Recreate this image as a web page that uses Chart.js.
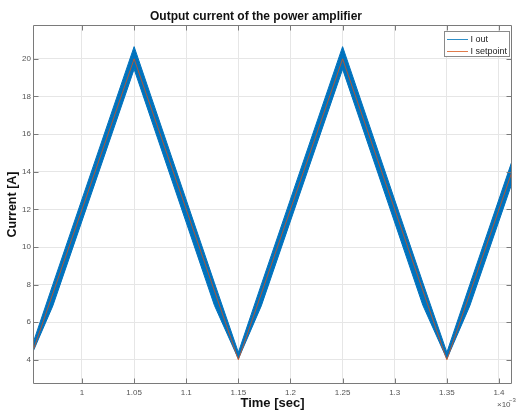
<!DOCTYPE html>
<html>
<head>
<meta charset="utf-8">
<script src="https://cdn.jsdelivr.net/npm/chart.js@4/dist/chart.umd.min.js"></script>
<style>
html,body{margin:0;padding:0;background:#fff;}
#wrap{width:516px;height:410px;position:relative;}
</style>
</head>
<body>
<div id="wrap"><canvas id="c" width="516" height="410"></canvas></div>
<script>
// Time axis in units of 1e-3 s
const envTime = [0.95, 0.972, 1.05, 1.127, 1.15, 1.172, 1.25, 1.327, 1.35, 1.372, 1.45];
const ioutUpper = [4.4, 8.0, 20.65, 8.1, 4.4, 8.0, 20.65, 8.1, 4.4, 8.0, 20.65];
const ioutLower = [4.05, 6.87, 19.45, 6.9, 4.05, 6.87, 19.45, 6.9, 4.05, 6.87, 19.45];
const setTime = [0.95, 1.05, 1.15, 1.25, 1.35, 1.45];
const setValues = [4, 20, 4, 20, 4, 20];
const xTicks = [1, 1.05, 1.1, 1.15, 1.2, 1.25, 1.3, 1.35, 1.4];
const xTickLabels = ['1', '1.05', '1.1', '1.15', '1.2', '1.25', '1.3', '1.35', '1.4'];
const yTicks = [4, 6, 8, 10, 12, 14, 16, 18, 20];
const yTickLabels = ['4', '6', '8', '10', '12', '14', '16', '18', '20'];
const seriesNames = ['I out', 'I setpoint'];

const BLUE = '#0072BD';
const ORANGE = '#D95319';
const FONT = "'Liberation Sans', Arial, Helvetica, sans-serif";

const pts = (xs, ys) => xs.map((x, i) => ({x: x, y: ys[i]}));

const frame = {
  id: 'frame',
  afterDraw(chart) {
    const ctx = chart.ctx;
    const a = chart.chartArea;
    const xs = chart.scales.x, ys = chart.scales.y;
    ctx.save();
    ctx.strokeStyle = '#7a7a7a';
    ctx.lineWidth = 1;
    const L = Math.round(a.left) + 0.5, R = Math.round(a.right) - 0.5;
    const T = Math.round(a.top) + 0.5, B = Math.round(a.bottom) - 0.5;
    ctx.beginPath();
    ctx.rect(L, T, R - L, B - T);
    ctx.stroke();
    // inward ticks
    ctx.beginPath();
    xTicks.forEach(v => {
      const px = Math.round(xs.getPixelForValue(v)) + 0.5;
      ctx.moveTo(px, B); ctx.lineTo(px, B - 5);
      ctx.moveTo(px, T); ctx.lineTo(px, T + 5);
    });
    yTicks.forEach(v => {
      const py = Math.round(ys.getPixelForValue(v)) + 0.5;
      ctx.moveTo(L, py); ctx.lineTo(L + 5, py);
      ctx.moveTo(R, py); ctx.lineTo(R - 5, py);
    });
    ctx.stroke();
    // exponent label
    ctx.fillStyle = '#555';
    ctx.font = '8px ' + FONT;
    ctx.textBaseline = 'alphabetic';
    ctx.textAlign = 'left';
    ctx.fillText('\u00d710', 497, 407);
    ctx.font = '6px ' + FONT;
    ctx.fillText('\u22123', 509, 402);
    // legend
    const lx = 444.5, ly = 31.5, lw = 65, lh = 25;
    ctx.fillStyle = '#fff';
    ctx.fillRect(lx, ly, lw, lh);
    ctx.strokeStyle = '#8a8a8a';
    ctx.strokeRect(lx, ly, lw, lh);
    const cols = ['#2f8fc8', '#e07a4a'];
    ctx.font = '9px ' + FONT;
    ctx.textBaseline = 'middle';
    seriesNames.forEach((n, i) => {
      const y = 39.5 + i * 12;
      ctx.strokeStyle = cols[i];
      ctx.lineWidth = 1;
      ctx.beginPath();
      ctx.moveTo(447, y); ctx.lineTo(468, y);
      ctx.stroke();
      ctx.fillStyle = '#222';
      ctx.fillText(n, 470.5, y + 0.5);
    });
    ctx.restore();
  }
};

new Chart(document.getElementById('c'), {
  type: 'line',
  data: {
    datasets: [
      {
        label: seriesNames[1],
        data: pts(setTime, setValues),
        borderColor: ORANGE,
        borderWidth: 0.8,
        pointRadius: 0,
        fill: false,
        tension: 0,
        order: 0
      },
      {
        label: seriesNames[0],
        data: pts(envTime, ioutUpper),
        borderColor: BLUE,
        backgroundColor: BLUE,
        borderWidth: 1,
        pointRadius: 0,
        fill: 2,
        tension: 0,
        order: 1
      },
      {
        label: seriesNames[0] + ' (lower)',
        data: pts(envTime, ioutLower),
        borderColor: BLUE,
        backgroundColor: BLUE,
        borderWidth: 1,
        pointRadius: 0,
        fill: false,
        tension: 0,
        order: 2
      }
    ]
  },
  options: {
    responsive: false,
    animation: false,
    devicePixelRatio: 1,
    layout: {padding: {left: 0, right: 4, top: 0, bottom: 0}},
    plugins: {
      legend: {display: false},
      tooltip: {enabled: false},
      title: {
        display: true,
        text: 'Output current of the power amplifier',
        color: '#111',
        font: {family: FONT, size: 12, weight: 'bold', lineHeight: 1.2},
        padding: {top: 9, bottom: 1.6}
      }
    },
    scales: {
      x: {
        type: 'linear',
        min: 0.953,
        max: 1.4125,
        afterBuildTicks: s => { s.ticks = xTicks.map(v => ({value: v})); },
        afterFit: s => { s.height = 26; },
        ticks: {
          autoSkip: false,
          maxRotation: 0,
          padding: 4,
          color: '#555',
          font: {family: FONT, size: 8},
          callback: v => { const i = xTicks.indexOf(v); return i >= 0 ? xTickLabels[i] : ''; }
        },
        grid: {color: '#e6e6e6', drawTicks: false},
        border: {display: false},
        title: {
          display: true,
          text: 'Time [sec]',
          color: '#111',
          font: {family: FONT, size: 13, weight: 'bold', lineHeight: 1},
          padding: {top: 0, bottom: 0}
        }
      },
      y: {
        type: 'linear',
        min: 2.72,
        max: 21.8,
        afterBuildTicks: s => { s.ticks = yTicks.map(v => ({value: v})); },
        afterFit: s => { s.width = 33; },
        ticks: {
          autoSkip: false,
          padding: 2,
          color: '#555',
          font: {family: FONT, size: 8},
          callback: v => { const i = yTicks.indexOf(v); return i >= 0 ? yTickLabels[i] : ''; }
        },
        grid: {color: '#e6e6e6', drawTicks: false},
        border: {display: false},
        title: {
          display: true,
          text: 'Current [A]',
          color: '#111',
          font: {family: FONT, size: 12.5, weight: 'bold', lineHeight: 1},
          padding: {top: 6, bottom: 0}
        }
      }
    }
  },
  plugins: [frame]
});
</script>
</body>
</html>
